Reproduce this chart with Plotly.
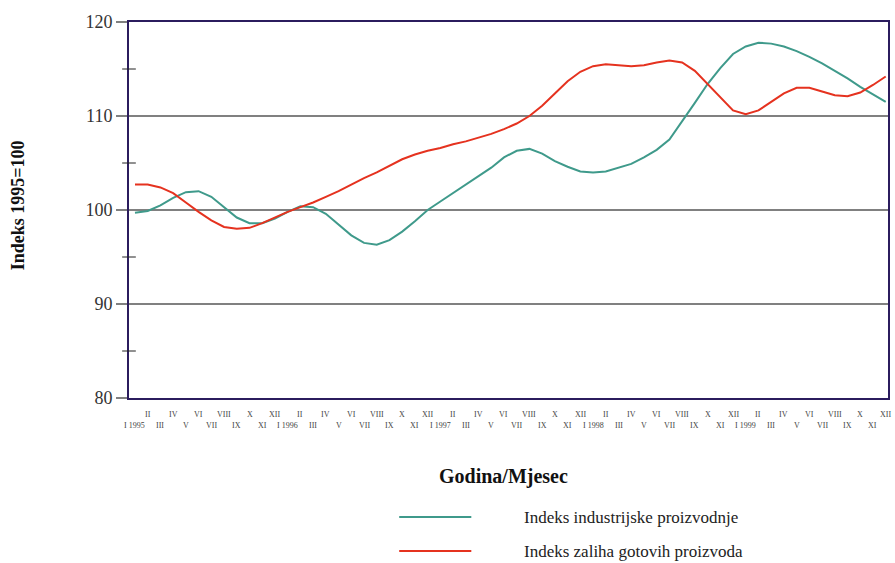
import plotly.graph_objects as go

months_roman = ["I", "II", "III", "IV", "V", "VI", "VII", "VIII", "IX", "X", "XI", "XII"]
years = [1995, 1996, 1997, 1998, 1999]

industrija = [99.7, 99.9, 100.5, 101.3, 101.9, 102.0, 101.4, 100.3, 99.2, 98.6,
              98.6, 99.1, 99.8, 100.4, 100.3, 99.6, 98.4, 97.3, 96.5, 96.3,
              96.8, 97.7, 98.8, 100.0, 100.9, 101.8, 102.7, 103.6, 104.5, 105.6,
              106.3, 106.5, 106.0, 105.2, 104.6, 104.1, 104.0, 104.1, 104.5, 104.9,
              105.6, 106.4, 107.5, 109.4, 111.4, 113.4, 115.1, 116.6, 117.4, 117.8,
              117.7, 117.4, 116.9, 116.3, 115.6, 114.8, 114.0, 113.1, 112.3, 111.5]

zalihe = [102.7, 102.7, 102.4, 101.8, 100.8, 99.8, 98.9, 98.2, 98.0, 98.1,
          98.6, 99.2, 99.8, 100.3, 100.8, 101.4, 102.0, 102.7, 103.4, 104.0,
          104.7, 105.4, 105.9, 106.3, 106.6, 107.0, 107.3, 107.7, 108.1, 108.6,
          109.2, 110.0, 111.1, 112.4, 113.7, 114.7, 115.3, 115.5, 115.4, 115.3,
          115.4, 115.7, 115.9, 115.7, 114.8, 113.4, 111.9, 110.6, 110.2, 110.6,
          111.5, 112.4, 113.0, 113.0, 112.6, 112.2, 112.1, 112.5, 113.3, 114.2]

y_major = [80, 90, 100, 110, 120]
y_minor = [85, 95, 105, 115]

x = list(range(len(industrija)))
GREEN = "#3f9a8b"
RED = "#e5321f"
NAVY = "#2b1c5e"
SERIF = "Liberation Serif, Times New Roman, serif"

fig = go.Figure()
fig.add_trace(go.Scatter(x=x, y=industrija, mode="lines", line=dict(color=GREEN, width=2),
                         name="Indeks industrijske proizvodnje"))
fig.add_trace(go.Scatter(x=x, y=zalihe, mode="lines", line=dict(color=RED, width=2),
                         name="Indeks zaliha gotovih proizvoda"))

annotations = []
for i in x:
    m = i % 12
    label = months_roman[m]
    if m == 0:
        label = f"I {years[i // 12]}"
    row_y = -0.043 if m % 2 == 1 else -0.072
    annotations.append(dict(x=i, y=row_y, xref="x", yref="paper", text=label, showarrow=False,
                            font=dict(family=SERIF, size=8, color="#444"),
                            xanchor="center", yanchor="middle"))

annotations.append(dict(x=0.494, y=-0.21, xref="paper", yref="paper", text="<b>Godina/Mjesec</b>",
                        showarrow=False, font=dict(family=SERIF, size=20, color="#111"),
                        xanchor="center", yanchor="middle"))
annotations.append(dict(x=-0.146, y=0.513, xref="paper", yref="paper", text="<b>Indeks 1995=100</b>",
                        showarrow=False, textangle=-90, font=dict(family=SERIF, size=18, color="#111"),
                        xanchor="center", yanchor="middle"))

shapes = []
legend_items = [("Indeks industrijske proizvodnje", GREEN, -0.3165),
                ("Indeks zaliha gotovih proizvoda", RED, -0.407)]
for name, col, yy in legend_items:
    shapes.append(dict(type="line", xref="paper", yref="paper", x0=0.356, x1=0.451, y0=yy, y1=yy,
                       line=dict(color=col, width=2)))
    annotations.append(dict(x=0.518, y=yy, xref="paper", yref="paper", text=name, showarrow=False,
                            font=dict(family=SERIF, size=17, color="#222"),
                            xanchor="left", yanchor="middle"))

for v in y_minor:
    shapes.append(dict(type="line", xref="paper", yref="y", x0=-0.009, x1=0.009, y0=v, y1=v,
                       line=dict(color="#222", width=1)))

fig.update_layout(
    width=895, height=563,
    margin=dict(l=129, r=5, t=22, b=165),
    paper_bgcolor="white", plot_bgcolor="white",
    showlegend=False,
    annotations=annotations,
    shapes=shapes,
    xaxis=dict(range=[-0.47, 59.18], showticklabels=False, showgrid=False, zeroline=False,
               showline=True, linecolor=NAVY, linewidth=2, mirror=True, ticks=""),
    yaxis=dict(range=[80, 120], tickvals=y_major, ticktext=[str(v) for v in y_major],
               showgrid=True, gridcolor="#808080", gridwidth=1.5, zeroline=False,
               showline=True, linecolor=NAVY, linewidth=2, mirror=True,
               ticks="outside", ticklen=11, tickcolor="#808080", tickwidth=1.5,
               tickfont=dict(family=SERIF, size=18, color="#333")),
)

fig.write_html("out.html", config={"displayModeBar": False},
               post_script="document.body.style.margin='0';document.body.style.overflow='hidden';")
